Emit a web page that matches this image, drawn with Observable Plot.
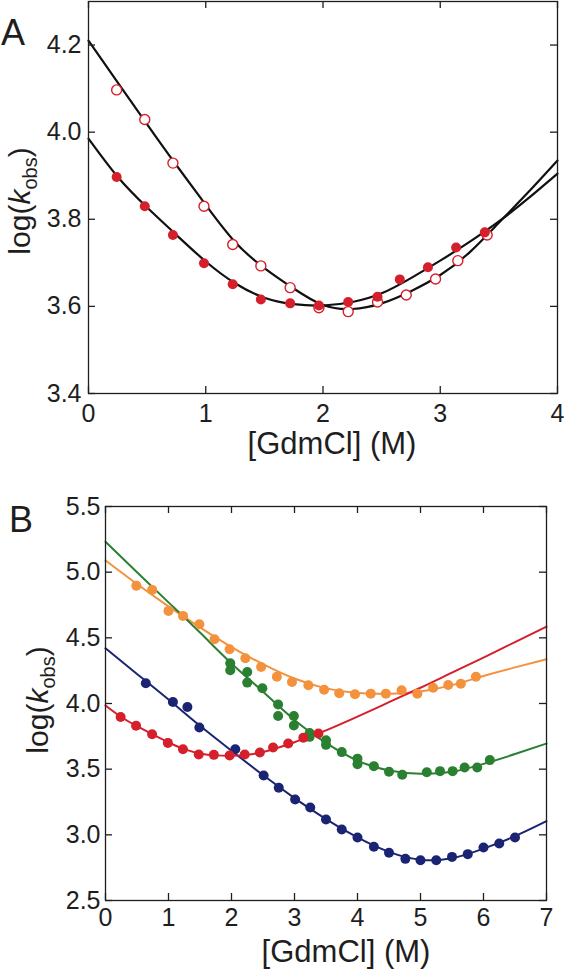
<!DOCTYPE html>
<html><head><meta charset="utf-8">
<script src="https://cdn.jsdelivr.net/npm/d3@7"></script>
<script src="https://cdn.jsdelivr.net/npm/@observablehq/plot@0.6"></script>
<style>body{margin:0;background:#fff} #chart svg{display:block}</style>
</head><body><div id="chart"></div>
<script>
// ---------- Panel A data ----------
const aXTicks = [0, 1, 2, 3, 4];
const aYTicks = [3.4, 3.6, 3.8, 4.0, 4.2];
const aOpenX = [0.24, 0.48, 0.72, 0.985, 1.23, 1.47, 1.72, 1.965, 2.215, 2.465, 2.71, 2.96, 3.15, 3.40];
const aOpenY = [4.097, 4.029, 3.929, 3.830, 3.742, 3.693, 3.643, 3.597, 3.588, 3.610, 3.626, 3.663, 3.705, 3.764];
const aFilledX = [0.24, 0.48, 0.72, 0.985, 1.23, 1.47, 1.72, 1.965, 2.215, 2.465, 2.655, 2.895, 3.135, 3.38];
const aFilledY = [3.897, 3.830, 3.764, 3.699, 3.651, 3.616, 3.607, 3.602, 3.610, 3.622, 3.662, 3.690, 3.735, 3.770];
const aFitX = [0, 0.25, 0.5, 0.75, 1, 1.25, 1.5, 1.75, 2, 2.25, 2.5, 2.75, 3, 3.25, 3.5, 3.75, 4];
const aOpenFitY = [4.21, 4.114, 4.018, 3.924, 3.833, 3.748, 3.688, 3.641, 3.603, 3.594, 3.607, 3.635, 3.672, 3.724, 3.792, 3.862, 3.935];
const aFilledFitY = [3.985, 3.897, 3.827, 3.764, 3.703, 3.653, 3.620, 3.605, 3.602, 3.610, 3.630, 3.665, 3.705, 3.748, 3.795, 3.848, 3.905];

// ---------- Panel B data ----------
const bXTicks = [0, 1, 2, 3, 4, 5, 6, 7];
const bYTicks = [2.5, 3.0, 3.5, 4.0, 4.5, 5.0, 5.5];
const bOrangeX = [0.49, 0.74, 1.0, 1.23, 1.49, 1.73, 1.97, 2.22, 2.47, 2.72, 2.96, 3.22, 3.47, 3.71, 3.96, 4.21, 4.45, 4.70, 4.95, 5.20, 5.44, 5.64, 5.88];
const bOrangeY = [4.896, 4.865, 4.705, 4.667, 4.604, 4.489, 4.413, 4.344, 4.278, 4.204, 4.164, 4.139, 4.105, 4.078, 4.070, 4.075, 4.075, 4.100, 4.075, 4.120, 4.141, 4.151, 4.204];
const bGreenX = [1.98, 1.98, 2.25, 2.25, 2.49, 2.74, 2.74, 2.99, 2.99, 3.24, 3.24, 3.50, 3.50, 3.75, 4.0, 4.0, 4.26, 4.50, 4.71, 5.10, 5.31, 5.51, 5.70, 5.90, 6.10];
const bGreenY = [4.306, 4.253, 4.240, 4.159, 4.116, 3.992, 3.905, 3.905, 3.832, 3.776, 3.746, 3.720, 3.685, 3.630, 3.580, 3.538, 3.523, 3.480, 3.457, 3.477, 3.485, 3.485, 3.513, 3.513, 3.569];
const bNavyX = [0.64, 1.07, 1.30, 1.49, 2.06, 2.51, 2.75, 3.01, 3.25, 3.50, 3.75, 4.0, 4.26, 4.50, 4.76, 5.0, 5.25, 5.50, 5.75, 6.0, 6.25, 6.50];
const bNavyY = [4.154, 4.011, 3.973, 3.817, 3.652, 3.452, 3.358, 3.269, 3.208, 3.117, 3.041, 2.980, 2.909, 2.863, 2.817, 2.807, 2.807, 2.832, 2.853, 2.904, 2.934, 2.980];
const bRedX = [0.24, 0.485, 0.74, 0.99, 1.23, 1.48, 1.72, 1.97, 2.21, 2.45, 2.66, 2.90, 3.14, 3.38];
const bRedY = [3.897, 3.830, 3.766, 3.700, 3.652, 3.612, 3.609, 3.604, 3.612, 3.627, 3.665, 3.695, 3.739, 3.772];
const bFitX = [0, 0.5, 1, 1.5, 2, 2.5, 3, 3.5, 4, 4.5, 5, 5.5, 6, 6.5, 7];
const bOrangeFitY = [5.09, 4.91, 4.74, 4.58, 4.43, 4.30, 4.19, 4.115, 4.08, 4.075, 4.092, 4.14, 4.21, 4.275, 4.337];
const bGreenFitY = [5.231, 5.0, 4.77, 4.54, 4.305, 4.09, 3.875, 3.70, 3.565, 3.49, 3.465, 3.48, 3.54, 3.615, 3.695];
const bNavyFitY = [4.42, 4.225, 4.03, 3.83, 3.64, 3.455, 3.28, 3.12, 2.98, 2.87, 2.81, 2.822, 2.895, 2.99, 3.104];
const bRedFitX = [0, 0.25, 0.5, 0.75, 1, 1.25, 1.5, 1.75, 2, 2.25, 2.5, 2.75, 3, 3.25, 3.5, 4, 4.5, 5, 5.5, 6, 6.5, 7];
const bRedFitY = [3.985, 3.897, 3.827, 3.764, 3.703, 3.653, 3.620, 3.605, 3.602, 3.610, 3.630, 3.665, 3.705, 3.748, 3.795, 3.90, 4.01, 4.12, 4.235, 4.35, 4.468, 4.585];

const RED = "#d51f2b", ORANGE = "#f4913c", GREEN = "#2a8030", NAVY = "#1b2473", INK = "#1e1e1e";
const FONT = "'Liberation Sans', Arial, Helvetica, sans-serif";
const zip = (xs, ys) => xs.map((x, i) => ({x, y: ys[i]}));

function tickMarks(xTicks, yTicks, innerW, innerH, len) {
  const o = {stroke: INK, strokeWidth: 1.3};
  return [
    Plot.tickX(xTicks, {x: d => d, insetTop: innerH - len, ...o}),
    Plot.tickX(xTicks, {x: d => d, insetBottom: innerH - len, ...o}),
    Plot.tickY(yTicks, {y: d => d, insetRight: innerW - len, ...o}),
    Plot.tickY(yTicks, {y: d => d, insetLeft: innerW - len, ...o})
  ];
}

function addLabels(svg, {letter, lx, ly, xlab, xlx, xly, ylx, yly}) {
  const s = d3.select(svg);
  s.append("text").attr("x", lx).attr("y", ly).attr("font-size", 36).attr("fill", INK)
    .attr("text-anchor", "start").attr("font-family", FONT).text(letter);
  s.append("text").attr("x", xlx).attr("y", xly).attr("font-size", 31).attr("fill", INK)
    .attr("text-anchor", "middle").attr("font-family", FONT).text(xlab);
  const t = s.append("text").attr("transform", `translate(${ylx},${yly}) rotate(-90)`)
    .attr("font-size", 30).attr("fill", INK).attr("text-anchor", "middle").attr("font-family", FONT);
  t.append("tspan").text("log(");
  t.append("tspan").attr("font-style", "italic").text("k");
  t.append("tspan").attr("font-size", 20).attr("dy", 7).text("obs");
  t.append("tspan").attr("dy", -7).text(")");
}

// ---------- Panel A ----------
const A = {w: 564, h: 460, ml: 88, mr: 7, mt: 1, mb: 67};
const svgA = Plot.plot({
  width: A.w, height: A.h, marginLeft: A.ml, marginRight: A.mr, marginTop: A.mt, marginBottom: A.mb,
  x: {domain: [0, 4]}, y: {domain: [3.4, 4.3]},
  style: {fontFamily: FONT, fontSize: "24px", color: INK, background: "white", overflow: "visible"},
  marks: [
    Plot.line(zip(aFitX, aOpenFitY), {x: "x", y: "y", curve: "natural", stroke: "#111", strokeWidth: 2.2}),
    Plot.line(zip(aFitX, aFilledFitY), {x: "x", y: "y", curve: "natural", stroke: "#111", strokeWidth: 2.2}),
    Plot.dot(zip(aOpenX, aOpenY), {x: "x", y: "y", r: 5, stroke: RED, strokeWidth: 1.4, fill: "white"}),
    Plot.dot(zip(aFilledX, aFilledY), {x: "x", y: "y", r: 5, fill: RED, stroke: "none"}),
    ...tickMarks(aXTicks, aYTicks, A.w - A.ml - A.mr, A.h - A.mt - A.mb, 7),
    Plot.frame({stroke: INK, strokeWidth: 1.3}),
    Plot.axisX({ticks: aXTicks, tickSize: 0, tickPadding: 11, fontSize: 25, tickFormat: d => String(d), label: null}),
    Plot.axisY({ticks: aYTicks, tickSize: 0, tickPadding: 7, fontSize: 25, tickFormat: d3.format(".1f"), label: null})
  ]
});
addLabels(svgA, {letter: "A", lx: 1, ly: 45, xlab: "[GdmCl] (M)", xlx: 332, xly: 454, ylx: 30, yly: 201});

// ---------- Panel B ----------
const B = {w: 564, h: 509, ml: 105, mr: 18, mt: 46, mb: 69};
const svgB = Plot.plot({
  width: B.w, height: B.h, marginLeft: B.ml, marginRight: B.mr, marginTop: B.mt, marginBottom: B.mb,
  x: {domain: [0, 7]}, y: {domain: [2.5, 5.5]},
  style: {fontFamily: FONT, fontSize: "24px", color: INK, background: "white", overflow: "visible"},
  marks: [
    Plot.line(zip(bFitX, bOrangeFitY), {x: "x", y: "y", curve: "natural", stroke: ORANGE, strokeWidth: 2}),
    Plot.line(zip(bFitX, bGreenFitY), {x: "x", y: "y", curve: "natural", stroke: GREEN, strokeWidth: 2}),
    Plot.line(zip(bFitX, bNavyFitY), {x: "x", y: "y", curve: "natural", stroke: NAVY, strokeWidth: 2}),
    Plot.line(zip(bRedFitX, bRedFitY), {x: "x", y: "y", curve: "natural", stroke: RED, strokeWidth: 2}),
    Plot.dot(zip(bOrangeX, bOrangeY), {x: "x", y: "y", r: 5, fill: ORANGE, stroke: "none"}),
    Plot.dot(zip(bGreenX, bGreenY), {x: "x", y: "y", r: 5, fill: GREEN, stroke: "none"}),
    Plot.dot(zip(bNavyX, bNavyY), {x: "x", y: "y", r: 5, fill: NAVY, stroke: "none"}),
    Plot.dot(zip(bRedX, bRedY), {x: "x", y: "y", r: 5, fill: RED, stroke: "none"}),
    ...tickMarks(bXTicks, bYTicks, B.w - B.ml - B.mr, B.h - B.mt - B.mb, 7),
    Plot.frame({stroke: INK, strokeWidth: 1.3}),
    Plot.axisX({ticks: bXTicks, tickSize: 0, tickPadding: 8, fontSize: 25, tickFormat: d => String(d), label: null}),
    Plot.axisY({ticks: bYTicks, tickSize: 0, tickPadding: 5, fontSize: 25, tickFormat: d3.format(".1f"), label: null})
  ]
});
addLabels(svgB, {letter: "B", lx: 9, ly: 72, xlab: "[GdmCl] (M)", xlx: 346, xly: 502, ylx: 48, yly: 240});

document.getElementById("chart").append(svgA, svgB);
</script></body></html>
